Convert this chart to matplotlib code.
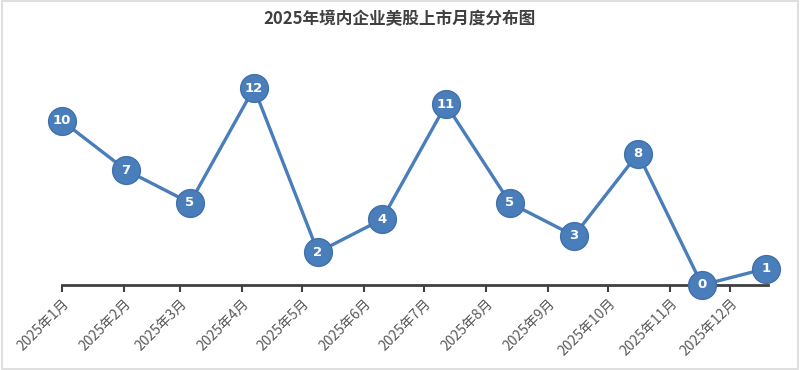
import matplotlib
matplotlib.use('Agg')
import matplotlib.pyplot as plt
import numpy as np
from matplotlib.patches import Rectangle

plt.rcParams['font.family'] = ['Noto Sans CJK SC', 'DejaVu Sans']

# Data
point_dates = np.array(['2025-01-01', '2025-02-02', '2025-03-06', '2025-04-07',
                        '2025-05-09', '2025-06-10', '2025-07-12', '2025-08-13',
                        '2025-09-14', '2025-10-16', '2025-11-17', '2025-12-19'],
                       dtype='datetime64[D]')
counts = [10, 7, 5, 12, 2, 4, 11, 5, 3, 8, 0, 1]
tick_dates = np.array(['2025-01-01', '2025-02-01', '2025-03-01', '2025-04-01',
                       '2025-05-01', '2025-06-01', '2025-07-01', '2025-08-01',
                       '2025-09-01', '2025-10-01', '2025-11-01', '2025-12-01'],
                      dtype='datetime64[D]')
tick_labels = ['2025年1月', '2025年2月', '2025年3月', '2025年4月', '2025年5月',
               '2025年6月', '2025年7月', '2025年8月', '2025年9月', '2025年10月',
               '2025年11月', '2025年12月']
title = '2025年境内企业美股上市月度分布图'

blue = '#4A7EBB'

fig = plt.figure(figsize=(8, 3.7), dpi=100)
ax = fig.add_axes([62 / 800, 85 / 370, 706 / 800, 197 / 370])

ax.plot(point_dates, counts, color=blue, linewidth=2.4, marker='o',
        markersize=20, markerfacecolor=blue, markeredgecolor='#3F70AA',
        markeredgewidth=1, clip_on=False, zorder=3)
for d, v in zip(point_dates, counts):
    ax.text(d, v, str(v), ha='center', va='center', color='white',
            fontsize=9.5, fontweight='bold', family='DejaVu Sans', zorder=4)

ax.set_xlim(np.datetime64('2025-01-01'), np.datetime64('2025-12-20'))
ax.set_ylim(0, 12)
ax.set_xticks(tick_dates)
ax.set_xticklabels(tick_labels, rotation=45, ha='right', rotation_mode='anchor',
                   fontsize=10, color='#595959')
ax.tick_params(axis='x', direction='out', length=5, width=1.5, color='#404040', pad=3)
ax.set_yticks([])
for s in ['left', 'right', 'top']:
    ax.spines[s].set_visible(False)
ax.spines['bottom'].set_color('#404040')
ax.spines['bottom'].set_linewidth(2)
ax.spines['bottom'].set_zorder(2)

fig.text(0.5, 1 - 19 / 370, title, ha='center', va='center', fontsize=12,
         fontweight='bold', color='#404040')

fig.patches.append(Rectangle((0.002, 0.003), 0.996, 0.994, transform=fig.transFigure,
                             fill=False, edgecolor='#D9D9D9', linewidth=1.2))

fig.savefig('out.png', dpi=100)
